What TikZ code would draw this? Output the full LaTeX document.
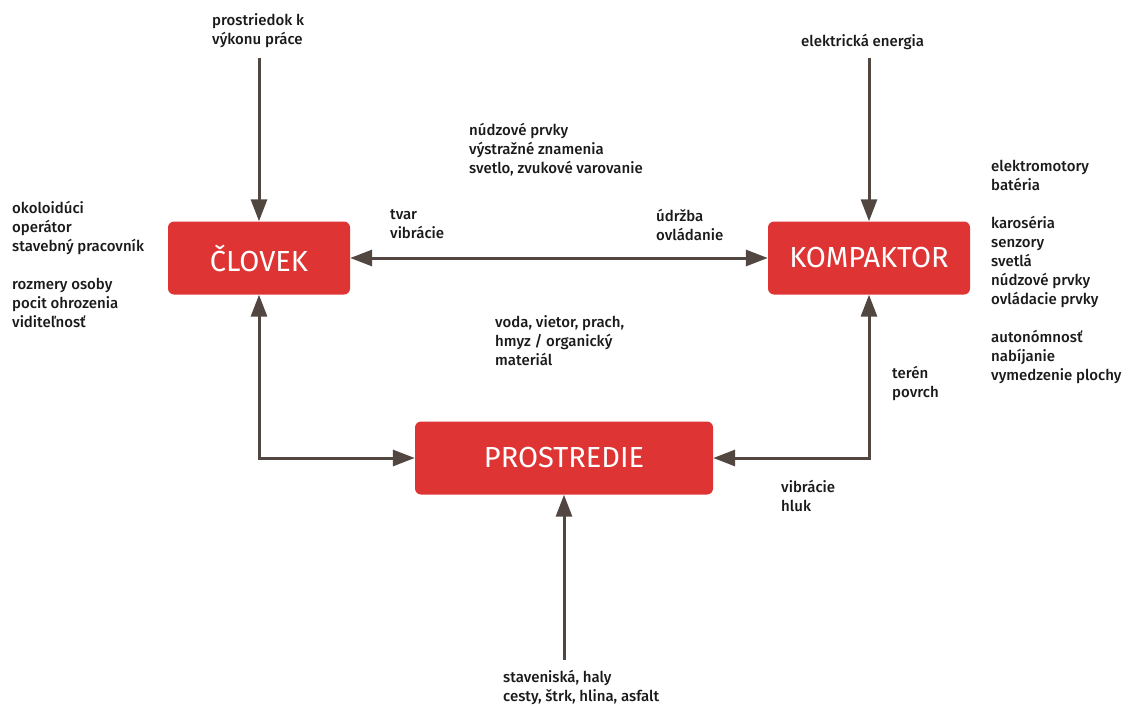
\documentclass[tikz,border=0pt]{standalone}
\usepackage{fontspec}
\setmainfont{Fira Sans}
\newfontfamily\notefont{Fira Sans Medium}
\usetikzlibrary{arrows.meta}
\definecolor{boxred}{HTML}{DE3434}
\definecolor{arrowgray}{HTML}{524640}
\definecolor{inktext}{HTML}{1A1A1A}
\begin{document}
\begin{tikzpicture}[x=1pt,y=-1pt,
  block/.style={draw=none,fill=boxred,rounded corners=6pt,minimum height=73pt,
    text=white,font=\fontsize{29}{34}\selectfont,inner sep=0pt},
  note/.style={anchor=north west,align=left,inner sep=0pt,text=inktext,
    font=\notefont\fontsize{15}{19}\selectfont},
  link/.style={draw=arrowgray,line width=3pt},
  tip/.tip={Triangle[length=22pt,width=16pt]}]
\useasboundingbox (0,0) rectangle (1129,706);

% main blocks
\node[block,minimum width=182pt] (clovek) at (259,258) {ČLOVEK};
\node[block,minimum width=202pt] (kompaktor) at (869,258) {KOMPAKTOR};
\node[block,minimum width=298pt] (prostredie) at (564,458) {PROSTREDIE};

% free ends of the incoming arrows
\coordinate (inL) at (259,58);
\coordinate (inR) at (869,58);
\coordinate (inB) at (564,660);

% connectors
\draw[link,-tip] (inL) -- (clovek.north);
\draw[link,-tip] (inR) -- (kompaktor.north);
\draw[link,tip-tip] (clovek.east) -- (kompaktor.west);
\draw[link,tip-tip] (clovek.south) |- (prostredie.west);
\draw[link,tip-tip] (kompaktor.south) |- (prostredie.east);
\draw[link,-tip] (inB) -- (prostredie.south);

% labels
\node[note] (tPrac) at (212,13) {prostriedok k\\výkonu práce};
\node[note] (tEnerg) at (801,34) {elektrická energia};
\node[note] (tNud) at (469,123) {núdzové prvky\\výstražné znamenia\\svetlo, zvukové varovanie};
\node[note] (tTvar) at (390,209) {tvar\\vibrácie};
\node[note] (tUdr) at (656,209) {údržba\\ovládanie};
\node[note] (tOsoby) at (12,201) {okoloidúci\\operátor\\stavebný pracovník\\[19pt]rozmery osoby\\pocit ohrozenia\\viditeľnosť};
\node[note] (tStroj) at (991,160) {elektromotory\\batéria\\[19pt]karoséria\\senzory\\svetlá\\núdzové prvky\\ovládacie prvky\\[19pt]autonómnosť\\nabíjanie\\vymedzenie plochy};
\node[note] (tVoda) at (495,315) {voda, vietor, prach,\\hmyz / organický\\materiál};
\node[note] (tTeren) at (892,366) {terén\\povrch};
\node[note] (tHluk) at (781,480) {vibrácie\\hluk};
\node[note] (tStav) at (503,670) {staveniská, haly\\cesty, štrk, hlina, asfalt};
\end{tikzpicture}
\end{document}
